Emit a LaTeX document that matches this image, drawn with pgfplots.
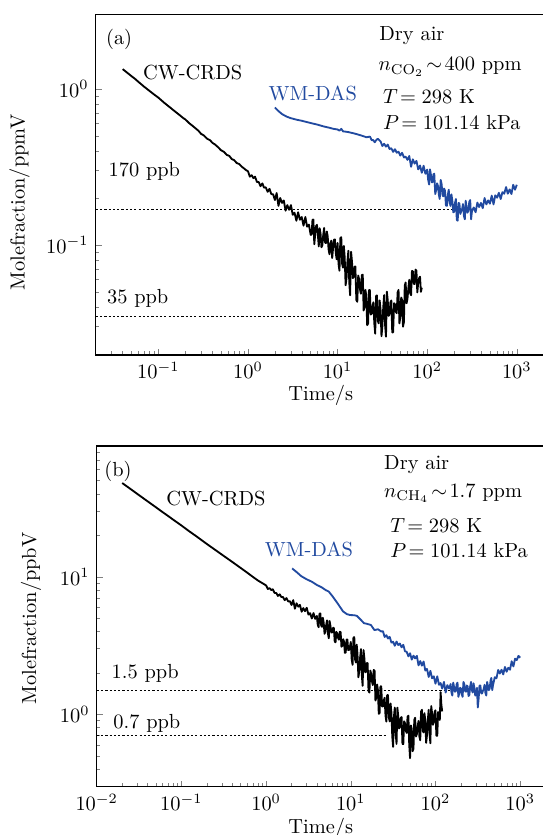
\documentclass[border=0pt]{standalone}
\usepackage{pgfplots}
\pgfplotsset{compat=1.18}
\definecolor{wmblue}{RGB}{33,74,160}
\tikzset{
  crds/.style={black, line width=0.9pt, line join=round},
  wm/.style={wmblue, line width=0.9pt, line join=round},
  ref/.style={black, line width=0.45pt, dash pattern=on 1.1pt off 1pt},
}
\begin{document}
\begin{tikzpicture}
\useasboundingbox (0,0) rectangle (265.69pt,409.31pt);
% ---------------- panel (a) ----------------
\begin{axis}[
  xmode=log, ymode=log, scale only axis,
  tick pos=left, tick align=inside,
  major tick length=3pt, minor tick length=1.8pt,
  axis line style={line width=0.7pt},
  at={(46.91pt,235.29pt)}, anchor=south west,
  width=223.9pt, height=167.0pt,
  xmin=0.02, xmax=2500, ymin=0.0197, ymax=3.01,
  xlabel={Time/s}, ylabel={Molefraction/ppmV},
  xlabel style={at={(axis description cs:0.4929,0)}, anchor=base, yshift=-22.5pt},
  ylabel style={at={(axis description cs:-0.1666,0.4476)}, anchor=center},
]
\addplot[ref] coordinates {(0.02,0.17) (300,0.17)};
\addplot[ref] coordinates {(0.02,0.035) (18,0.035)};
\addplot[crds] table {
t y
0.040 1.34
0.045 1.27
0.050 1.21
0.055 1.16
0.060 1.11
0.070 1.03
0.080 0.97
0.090 0.92
0.100 0.88
0.115 0.82
0.130 0.775
0.150 0.725
0.170 0.685
0.190 0.650
0.200 0.638
0.220 0.605
0.250 0.570
0.280 0.540
0.300 0.515
0.320 0.505
0.350 0.480
0.380 0.468
0.400 0.452
0.430 0.440
0.460 0.425
0.500 0.405
0.540 0.395
0.580 0.378
0.620 0.372
0.660 0.355
0.700 0.350
0.750 0.335
0.800 0.330
0.850 0.318
0.900 0.310
0.950 0.302
1.00 0.297
1.05 0.274
1.10 0.280
1.15 0.268
1.20 0.274
1.26 0.253
1.32 0.253
1.38 0.238
1.45 0.248
1.51 0.233
1.58 0.234
1.66 0.219
1.74 0.229
1.82 0.212
1.91 0.211
2.00 0.194
2.09 0.215
2.19 0.178
2.29 0.200
2.40 0.186
2.51 0.193
2.63 0.166
2.75 0.180
2.88 0.168
3.02 0.180
3.16 0.156
3.31 0.161
3.47 0.143
3.63 0.162
3.80 0.145
3.98 0.151
4.17 0.133
4.37 0.151
4.57 0.131
4.79 0.135
5.01 0.116
5.13 0.1165
5.25 0.145
5.37 0.1454
5.50 0.101
5.62 0.1157
5.75 0.132
5.89 0.1346
6.03 0.116
6.17 0.0978
6.31 0.128
6.46 0.1182
6.61 0.0966
6.76 0.0995
6.92 0.116
7.08 0.1286
7.24 0.104
7.41 0.1027
7.59 0.122
7.76 0.1135
7.94 0.0936
8.13 0.0871
8.32 0.102
8.51 0.1066
8.71 0.0824
8.91 0.0954
9.12 0.108
9.33 0.1086
9.55 0.0887
9.77 0.081
10.0 0.103
10.25 0.0756
10.5 0.0683
10.75 0.111
11.0 0.112
11.25 0.0755
11.5 0.0715
11.75 0.0985
12.0 0.0841
12.3 0.0552
12.6 0.0614
12.9 0.0793
13.2 0.0917
13.5 0.0578
13.8 0.0476
14.15 0.0904
14.5 0.0777
14.8 0.0613
15.1 0.0620
15.45 0.0725
15.8 0.0727
16.2 0.0443
16.6 0.0432
17.0 0.0637
17.4 0.0603
17.8 0.0518
18.2 0.0487
18.65 0.0641
19.1 0.0644
19.55 0.0380
20.0 0.0403
20.45 0.0515
20.9 0.0475
21.4 0.0306
21.9 0.0313
22.4 0.0513
22.9 0.0514
23.45 0.0358
24.0 0.0362
24.55 0.0402
25.1 0.0429
25.7 0.0315
26.3 0.0270
26.9 0.0470
27.5 0.0475
28.15 0.0325
28.8 0.0314
29.5 0.0441
30.2 0.0383
30.9 0.0260
31.6 0.0299
32.35 0.0399
33.1 0.0477
33.9 0.0307
34.7 0.0258
35.5 0.0502
36.3 0.0441
37.15 0.0351
38.0 0.0358
38.9 0.0429
39.8 0.0441
40.75 0.0275
41.7 0.0275
42.7 0.0423
43.7 0.0416
44.7 0.0373
45.7 0.0365
46.8 0.0496
47.9 0.0515
49.0 0.0314
50.1 0.0344
51.3 0.0460
52.5 0.0444
53.7 0.0299
55.0 0.0320
56.2 0.0548
57.5 0.0575
58.9 0.0423
60.3 0.0452
61.7 0.0531
63.1 0.0598
64.6 0.049
66.1 0.0476
67.6 0.068
69.2 0.0679
70.8 0.0564
72.4 0.0561
74.1 0.0695
75.9 0.0683
77.6 0.0496
79.4 0.0570
81.3 0.0614
83.2 0.0626
85.1 0.050
87.1 0.0532
};
\addplot[wm] table {
t y
2.0 0.76
2.2 0.72
2.4 0.69
2.7 0.665
3.0 0.65
3.5 0.635
4.0 0.625
5.0 0.605
6.0 0.59
7.0 0.575
8.0 0.565
9.0 0.555
10.0 0.55
10.5 0.54
11.0 0.555
11.5 0.535
13.0 0.53
15.0 0.52
17.0 0.51
19.0 0.50
21.0 0.49
23.0 0.495
24.0 0.47
25.0 0.47
26.0 0.455
27.0 0.47
28.0 0.48
30.2 0.461
31.6 0.431
33.1 0.445
34.7 0.427
36.3 0.440
38.0 0.412
39.8 0.417
41.7 0.395
43.7 0.411
45.7 0.390
47.9 0.396
50.1 0.374
52.5 0.390
55.0 0.364
57.5 0.368
60.3 0.351
63.1 0.372
66.1 0.317
69.2 0.354
72.4 0.332
75.9 0.346
79.4 0.305
83.2 0.323
87.1 0.290
91.2 0.322
95.5 0.286
100 0.304
102.5 0.262
105 0.244
107.5 0.305
110 0.283
112.5 0.252
115 0.252
117.5 0.284
120 0.286
123 0.212
126 0.225
129 0.248
132 0.239
135 0.210
138 0.197
141.5 0.261
145 0.245
148 0.210
151 0.205
154.5 0.230
158 0.223
162 0.179
166 0.178
170 0.210
174 0.226
178 0.189
182 0.178
186.5 0.211
191 0.191
195.5 0.162
200 0.163
204.5 0.186
209 0.197
214 0.145
219 0.143
224 0.186
229 0.184
234.5 0.158
240 0.165
245.5 0.170
251 0.183
257 0.154
263 0.146
269 0.192
275 0.176
281.5 0.161
288 0.165
295 0.189
302 0.194
309 0.146
316 0.165
331 0.174
347 0.162
363 0.187
380 0.175
398 0.186
417 0.172
437 0.200
457 0.182
479 0.193
501 0.184
525 0.207
550 0.182
575 0.208
603 0.201
631 0.216
661 0.197
692 0.218
724 0.213
759 0.235
794 0.213
832 0.227
871 0.212
912 0.243
955 0.226
1000 0.243
};
\end{axis}
% ---------------- panel (b) ----------------
\begin{axis}[
  xmode=log, ymode=log, scale only axis,
  tick pos=left, tick align=inside,
  major tick length=3pt, minor tick length=1.8pt,
  axis line style={line width=0.7pt},
  at={(47.40pt,23.68pt)}, anchor=south west,
  width=224.1pt, height=167.1pt,
  xmin=0.01, xmax=2500, ymin=0.298, ymax=89.5,
  xlabel={Time/s}, ylabel={Molefraction/ppbV},
  xlabel style={at={(axis description cs:0.490,0)}, anchor=base, yshift=-22.7pt},
  ylabel style={at={(axis description cs:-0.1437,0.4938)}, anchor=center},
]
\addplot[ref] coordinates {(0.01,1.5) (220,1.5)};
\addplot[ref] coordinates {(0.01,0.7) (27,0.7)};
\addplot[crds] table {
t y
0.020 48.0
0.025 43.5
0.030 40.1
0.040 35.3
0.050 32.0
0.060 29.5
0.070 27.6
0.080 26.0
0.100 23.6
0.120 21.7
0.150 19.7
0.200 17.3
0.250 15.7
0.300 14.5
0.400 12.8
0.500 11.6
0.600 10.7
0.700 9.97
0.800 9.40
1.00 8.65
1.05 8.15
1.10 8.27
1.15 8.00
1.20 8.11
1.26 7.63
1.32 7.62
1.38 7.25
1.45 7.45
1.51 7.14
1.58 7.13
1.66 6.76
1.74 7.00
1.82 6.62
1.91 6.64
2.00 6.23
2.09 6.76
2.19 5.86
2.29 6.42
2.40 6.06
2.51 6.25
2.63 5.57
2.75 5.92
2.88 5.62
3.02 5.95
3.16 5.31
3.31 5.44
3.47 4.97
3.63 5.45
3.80 4.94
3.98 5.19
4.07 4.49
4.17 4.30
4.27 5.39
4.37 5.41
4.47 4.44
4.57 4.32
4.68 5.03
4.79 4.64
4.90 3.85
5.01 4.00
5.13 4.48
5.25 4.82
5.37 3.87
5.50 3.57
5.62 4.77
5.75 4.41
5.89 3.93
6.03 3.94
6.17 4.25
6.31 4.25
6.46 3.39
6.61 3.34
6.76 3.98
6.92 3.87
7.08 3.60
7.24 3.49
7.41 3.98
7.59 3.97
7.76 3.10
7.94 3.16
8.13 3.52
8.32 3.38
8.51 2.80
8.71 2.81
8.91 3.50
9.12 3.50
9.33 2.93
9.55 2.94
9.77 3.09
10.0 3.36
10.25 2.51
10.5 2.29
10.75 3.62
11.0 3.64
11.25 2.50
11.5 2.38
11.75 3.21
12.0 2.76
12.3 1.86
12.6 2.05
12.9 2.60
13.2 2.98
13.5 1.93
13.8 1.61
14.15 2.93
14.5 2.53
14.8 2.02
15.1 2.04
15.45 2.36
15.8 2.36
16.2 1.48
16.6 1.44
17.0 2.08
17.4 1.98
17.8 1.73
18.2 1.63
18.65 2.10
19.1 2.08
19.55 1.26
20.0 1.32
20.45 1.65
20.9 1.51
21.4 1.01
21.9 1.02
22.4 1.60
22.9 1.60
23.45 1.14
24.0 1.14
24.55 1.26
25.1 1.32
25.7 0.98
26.3 0.885
26.9 1.38
27.5 1.38
28.15 0.95
28.8 0.889
29.5 1.20
30.2 1.03
30.9 0.69
31.6 0.58
32.35 0.97
33.1 1.12
33.9 0.73
34.7 0.609
35.5 1.12
36.3 0.978
37.15 0.79
38.0 0.805
38.9 0.94
39.8 0.956
40.75 0.61
41.7 0.608
42.7 0.89
43.7 0.861
44.7 0.76
45.7 0.733
46.8 0.96
47.9 0.978
49.0 0.60
50.1 0.48
51.3 0.83
52.5 0.783
53.7 0.54
55.0 0.562
56.2 0.91
57.5 0.944
58.9 0.69
60.3 0.719
61.7 0.82
63.1 0.896
64.6 0.69
66.1 0.648
67.6 1.05
69.2 1.08
70.8 0.76
72.4 0.739
74.1 1.02
75.9 0.901
77.6 0.62
79.4 0.705
81.3 0.92
83.2 1.08
85.1 0.72
87.1 0.616
89.1 1.15
91.2 1.02
93.3 0.84
95.5 0.873
97.7 1.04
100 1.07
102.5 0.70
105 0.699
107.5 1.04
110 1.01
112.5 0.91
115 1.45
117.5 1.17
120 1.05
};
\addplot[wm] table {
t y
2.03 11.5
2.3 10.8
2.6 10.1
3.0 9.6
3.47 9.2
4.0 8.7
4.5 8.4
5.06 8.0
5.5 7.8
6.1 7.2
7.0 6.4
8.1 5.6
9.0 5.35
9.8 5.27
11.0 5.25
11.8 5.2
13.0 4.9
14.3 4.6
15.5 4.55
17.3 4.46
19.0 4.1
21.0 4.15
22.9 4.0
24.0 4.02
25.1 3.65
26.3 3.76
27.5 3.56
28.8 3.66
30.2 3.32
31.6 3.37
33.1 3.15
34.7 3.38
36.3 3.19
38.0 3.27
39.8 3.07
41.7 3.20
43.7 2.87
45.7 2.85
47.9 2.64
50.1 2.78
52.5 2.50
55.0 2.67
57.5 2.55
60.3 2.66
63.1 2.27
66.1 2.44
69.2 2.26
72.4 2.42
75.9 2.08
79.4 2.14
83.2 1.87
87.1 2.07
91.2 1.83
95.5 1.89
100 1.67
105 1.89
110 1.64
115 1.69
120 1.54
126 1.72
132 1.44
138 1.63
145 1.54
151 1.66
154.5 1.44
158 1.37
162 1.70
166 1.58
170 1.46
174 1.48
178 1.66
182 1.70
186.5 1.34
191 1.42
195.5 1.56
200 1.54
204.5 1.40
209 1.34
214 1.72
219 1.66
224 1.48
229 1.46
234.5 1.62
240 1.60
245.5 1.36
251 1.38
257 1.60
263 1.72
269 1.50
275 1.44
281.5 1.68
288 1.56
295 1.37
302 1.38
309 1.56
316 1.12
323.5 1.30
331 1.62
339 1.62
347 1.42
355 1.42
363 1.48
371.5 1.53
380 1.64
389 1.43
398 1.37
407.5 1.72
417 1.61
427 1.50
437 1.54
447 1.76
457 1.84
468 1.50
479 1.64
501 1.86
525 1.83
550 2.10
575 1.98
603 2.11
631 1.95
661 2.21
692 2.04
724 2.18
759 2.11
794 2.43
832 2.23
871 2.54
912 2.48
955 2.66
1000 2.58
};
\end{axis}
% ---------------- annotations ----------------
\begin{scope}[shift={(0,409.31pt)}, x=0.490196pt, y=-0.490196pt]
\tikzset{lab/.style={anchor=base west, inner sep=0pt}}
\node[lab] at (105.7,45) {(a)};
\node[lab] at (142.7,80) {CW-CRDS};
\node[lab, text=wmblue] at (268.3,100.7) {WM-DAS};
\node[lab] at (379,40.7) {Dry air};
\node[lab] at (378.3,71) {$n_{\mathrm{CO}_2}\!\sim\!400$ ppm};
\node[lab] at (382.7,103.3) {$T\!=298$ K};
\node[lab] at (382.7,130) {$P\!=101.14$ kPa};
\node[lab] at (108.2,176.7) {170 ppb};
\node[lab] at (106.7,304) {35 ppb};
\node[lab] at (104,477) {(b)};
\node[lab] at (166,506) {CW-CRDS};
\node[lab, text=wmblue] at (264.5,556.7) {WM-DAS};
\node[lab] at (383.8,470) {Dry air};
\node[lab] at (383.8,497.7) {$n_{\mathrm{CH}_4}\!\sim\!1.7$ ppm};
\node[lab] at (390,532.3) {$T\!=298$ K};
\node[lab] at (390,557.7) {$P\!=101.14$ kPa};
\node[lab] at (111.3,679) {1.5 ppb};
\node[lab] at (113,729) {0.7 ppb};
\end{scope}
\end{tikzpicture}
\end{document}
